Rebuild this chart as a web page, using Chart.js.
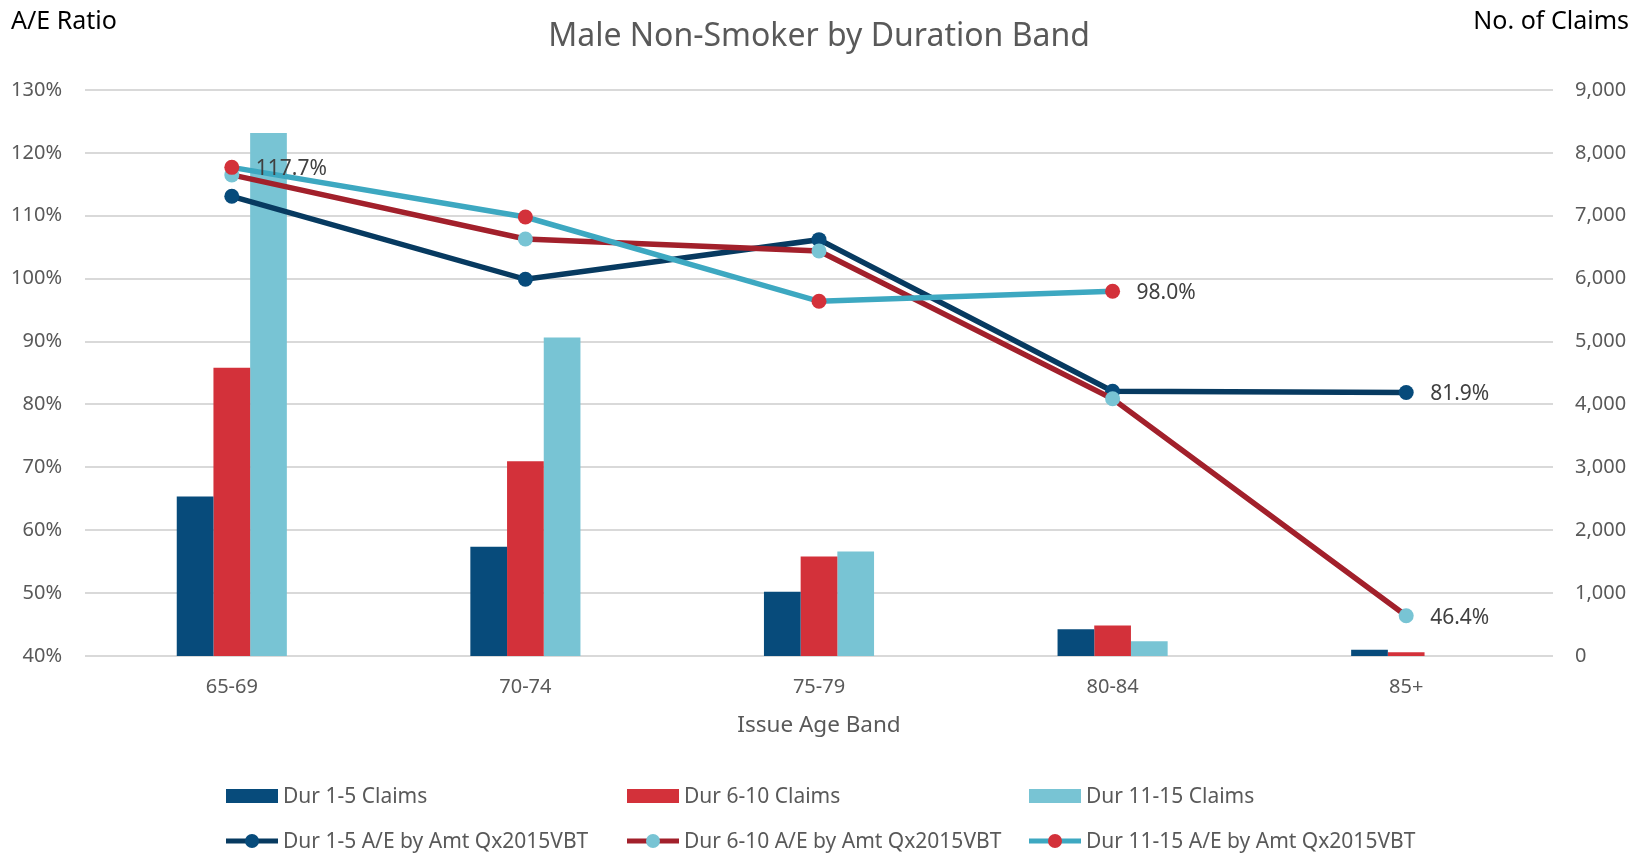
<!DOCTYPE html>
<html lang="en">
<head>
    <meta charset="UTF-8">
    <title>Male Non-Smoker by Duration Band</title>
    <style>
        body {
            margin: 0;
            background: #fff;
        }
        #chart-container {
            width: 1647px;
            height: 855px;
        }
    </style>
</head>
<body>
    <div id="chart-container">
        <canvas id="ae-chart" width="1647" height="855"></canvas>
    </div>

    <script src="https://cdn.jsdelivr.net/npm/chart.js"></script>
    <script>
        // categories
        const ageBands = ['65-69', '70-74', '75-79', '80-84', '85+'];

        // claim counts (right axis)
        const claimsDur1to5 = [2536, 1736, 1020, 426, 98];
        const claimsDur6to10 = [4582, 3097, 1582, 485, 60];
        const claimsDur11to15 = [8318, 5064, 1661, 235, null];

        // A/E ratios in % (left axis)
        const aeDur1to5 = [113.1, 99.9, 106.2, 82.1, 81.9];
        const aeDur6to10 = [116.5, 106.3, 104.4, 80.9, 46.4];
        const aeDur11to15 = [117.7, 109.8, 96.4, 98.0, null];

        // tick settings
        const aeTicks = { min: 40, max: 130, step: 10 };
        const claimTicks = { min: 0, max: 9000, step: 1000 };

        // which points get a value label: [dataset index, point index]
        const labelledPoints = [[5, 0], [5, 3], [3, 4], [4, 4]];

        const FONT = '"Noto Sans", "Open Sans", sans-serif';
        const GREY = '#595959';

        const ctx = document.getElementById('ae-chart').getContext('2d');

        // titles, value labels and legend drawn over the chart
        const overlayPlugin = {
            id: 'overlay',
            afterDraw(chart) {
                const c = chart.ctx;
                const area = chart.chartArea;
                c.save();
                c.textBaseline = 'middle';

                // main title
                c.fillStyle = GREY;
                c.font = '32px ' + FONT;
                c.textAlign = 'center';
                c.fillText('Male Non-Smoker by Duration Band', (area.left + area.right) / 2, 37);

                // axis titles
                c.fillStyle = '#000';
                c.font = '25px ' + FONT;
                c.textAlign = 'left';
                c.fillText('A/E Ratio', 11, 22);
                c.textAlign = 'right';
                c.fillText('No. of Claims', 1629, 22);

                c.fillStyle = GREY;
                c.font = '22.5px ' + FONT;
                c.textAlign = 'center';
                c.fillText('Issue Age Band', (area.left + area.right) / 2, 726);

                // value labels
                c.fillStyle = '#404040';
                c.font = '21px ' + FONT;
                c.textAlign = 'left';
                labelledPoints.forEach(([ds, i]) => {
                    const pt = chart.getDatasetMeta(ds).data[i];
                    const v = chart.data.datasets[ds].data[i];
                    c.fillText(v.toFixed(1) + '%', pt.x + 24, pt.y + 2);
                });

                // legend: 3 columns x 2 rows
                const colX = [226, 627, 1029];
                const rowY = [796, 841];
                c.font = '21px ' + FONT;
                chart.data.datasets.forEach((d, k) => {
                    const x = colX[k % 3];
                    const y = rowY[Math.floor(k / 3)];
                    if (d.type === 'bar') {
                        c.fillStyle = d.backgroundColor;
                        c.fillRect(x, y - 7, 52, 14);
                    } else {
                        c.strokeStyle = d.borderColor;
                        c.lineWidth = 5;
                        c.beginPath();
                        c.moveTo(x, y);
                        c.lineTo(x + 52, y);
                        c.stroke();
                        c.fillStyle = d.pointBackgroundColor;
                        c.beginPath();
                        c.arc(x + 26, y, 7, 0, Math.PI * 2);
                        c.fill();
                    }
                    c.fillStyle = GREY;
                    c.fillText(d.label, x + 57, y + 1);
                });
                c.restore();
            }
        };

        function barSet(label, data, color) {
            return {
                type: 'bar',
                label: label,
                data: data,
                backgroundColor: color,
                yAxisID: 'y1',
                order: 10,
                categoryPercentage: 0.375,
                barPercentage: 1.0
            };
        }

        function lineSet(label, data, lineColor, markerColor, order) {
            return {
                type: 'line',
                label: label,
                data: data,
                borderColor: lineColor,
                borderWidth: 5.5,
                pointBackgroundColor: markerColor,
                pointBorderColor: markerColor,
                pointRadius: 7.5,
                pointBorderWidth: 0,
                tension: 0,
                yAxisID: 'y',
                order: order
            };
        }

        const chart = new Chart(ctx, {
            data: {
                labels: ageBands,
                datasets: [
                    barSet('Dur 1-5 Claims', claimsDur1to5, '#074B7B'),
                    barSet('Dur 6-10 Claims', claimsDur6to10, '#D3313A'),
                    barSet('Dur 11-15 Claims', claimsDur11to15, '#78C4D4'),
                    lineSet('Dur 1-5 A/E by Amt Qx2015VBT', aeDur1to5, '#073A60', '#074B7B', 3),
                    lineSet('Dur 6-10 A/E by Amt Qx2015VBT', aeDur6to10, '#A2202B', '#78C4D4', 2),
                    lineSet('Dur 11-15 A/E by Amt Qx2015VBT', aeDur11to15, '#3DA8C1', '#D3313A', 1)
                ]
            },
            options: {
                responsive: false,
                animation: false,
                layout: {
                    padding: { top: 90, bottom: 99, left: 0, right: 0 }
                },
                plugins: {
                    legend: { display: false },
                    tooltip: { enabled: false }
                },
                scales: {
                    x: {
                        offset: true,
                        grid: { display: false, drawTicks: false },
                        border: { display: false },
                        ticks: {
                            color: GREY,
                            padding: 19,
                            font: { family: FONT, size: 20 }
                        },
                        afterFit: s => { s.height = 100; }
                    },
                    y: {
                        position: 'left',
                        min: aeTicks.min,
                        max: aeTicks.max,
                        grid: { color: '#D9D9D9', lineWidth: 2, drawTicks: false },
                        border: { display: false },
                        ticks: {
                            stepSize: aeTicks.step,
                            color: GREY,
                            padding: 23,
                            font: { family: FONT, size: 20 },
                            callback: v => v + '%'
                        },
                        afterFit: s => { s.width = 85; }
                    },
                    y1: {
                        position: 'right',
                        min: claimTicks.min,
                        max: claimTicks.max,
                        grid: { display: false, drawTicks: false },
                        border: { display: false },
                        ticks: {
                            stepSize: claimTicks.step,
                            color: GREY,
                            padding: 22,
                            font: { family: FONT, size: 20 },
                            callback: v => v.toLocaleString('en-US')
                        },
                        afterFit: s => { s.width = 94; }
                    }
                }
            },
            plugins: [overlayPlugin]
        });
    </script>
</body>
</html>
